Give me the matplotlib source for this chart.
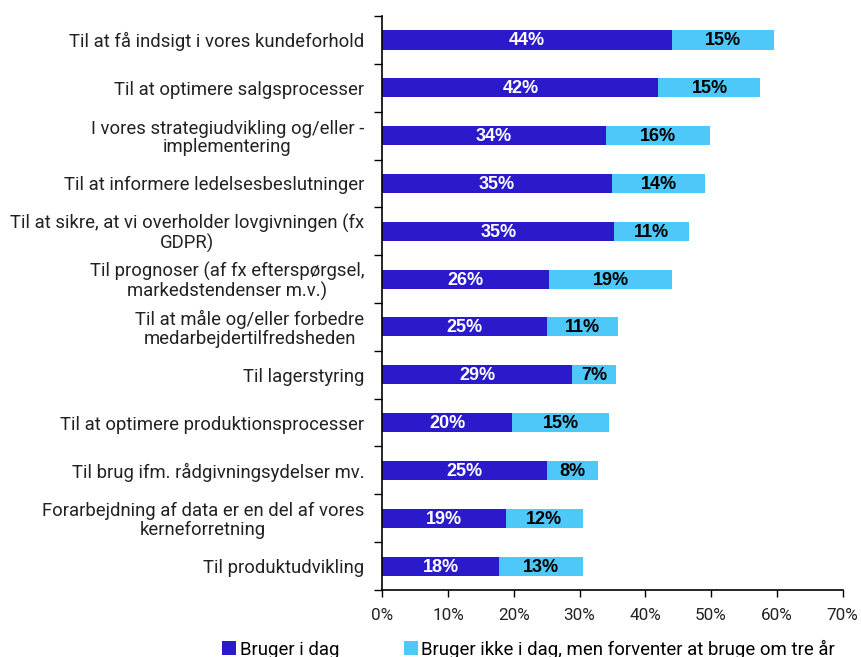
import matplotlib
matplotlib.use("Agg")
import matplotlib.pyplot as plt
import numpy as np

# categories, top to bottom
categories = [
    "Til at få indsigt i vores kundeforhold",
    "Til at optimere salgsprocesser",
    "I vores strategiudvikling og/eller -\nimplementering",
    "Til at informere ledelsesbeslutninger",
    "Til at sikre, at vi overholder lovgivningen (fx\nGDPR)",
    "Til prognoser (af fx efterspørgsel,\nmarkedstendenser m.v.)",
    "Til at måle og/eller forbedre\nmedarbejdertilfredsheden",
    "Til lagerstyring",
    "Til at optimere produktionsprocesser",
    "Til brug ifm. rådgivningsydelser mv.",
    "Forarbejdning af data er en del af vores\nkerneforretning",
    "Til produktudvikling",
]
# bar lengths (%)
bruger_i_dag = [44.1, 42.0, 34.0, 34.9, 35.3, 25.4, 25.0, 28.8, 19.8, 25.0, 18.8, 17.7]
forventer = [15.5, 15.5, 15.8, 14.2, 11.4, 18.7, 10.9, 6.8, 14.6, 7.8, 11.7, 12.8]
# printed labels
labels_i_dag = ["44%", "42%", "34%", "35%", "35%", "26%", "25%", "29%", "20%", "25%", "19%", "18%"]
labels_forventer = ["15%", "15%", "16%", "14%", "11%", "19%", "11%", "7%", "15%", "8%", "12%", "13%"]
series_names = ["Bruger i dag", "Bruger ikke i dag, men forventer at bruge om tre år"]
xticks = [0, 10, 20, 30, 40, 50, 60, 70]

dark = "#2b1acb"
light = "#4dc8f8"

plt.rcParams['font.family'] = ['Roboto', 'DejaVu Sans']

fig = plt.figure(figsize=(8.62, 6.57), dpi=100)
ax = fig.add_axes([0.4435, 0.102, 0.534, 0.8736])

y = np.arange(len(categories))
a = np.array(bruger_i_dag)
b = np.array(forventer)
h = 0.4
ax.barh(y, a, height=h, color=dark, label=series_names[0])
ax.barh(y, b, left=a, height=h, color=light, label=series_names[1])

for yi, va, vb, la, lb in zip(y, a, b, labels_i_dag, labels_forventer):
    ax.text(va / 2, yi + 0.02, la, ha="center", va="center", color="white",
            fontsize=13, fontweight="bold", family="Liberation Sans")
    ax.text(va + vb / 2, yi + 0.02, lb, ha="center", va="center", color="black",
            fontsize=13, fontweight="bold", family="Liberation Sans")

ax.set_ylim(len(categories) - 0.5, -0.5)
ax.set_xlim(0, 70)
ax.set_xticks(xticks)
ax.set_xticklabels([f"{t}%" for t in xticks], fontsize=12.3, color="#222222")
ax.set_yticks(y)
ax.set_yticklabels(categories, fontsize=13.3, color="#222222", linespacing=1.05)
for lbl in ax.get_yticklabels():
    lbl.set_multialignment("center")
ax.tick_params(axis="y", length=0, pad=13)
ax.set_yticks(np.arange(-0.5, len(categories), 1), minor=True)
ax.tick_params(axis="y", which="minor", length=6, width=1)
ax.tick_params(axis="x", length=5, width=1, direction="out", pad=8)

for s in ["top", "right"]:
    ax.spines[s].set_visible(False)
ax.spines["left"].set_linewidth(1.2)
ax.spines["bottom"].set_linewidth(1.2)

leg = fig.legend(loc="center left", bbox_to_anchor=(0.258, 0.012), ncol=2,
                 frameon=False, fontsize=13.4, handlelength=0.75, handleheight=0.75,
                 handletextpad=0.2, columnspacing=3.45, borderaxespad=0, borderpad=0)

fig.savefig("out.png", dpi=100)
